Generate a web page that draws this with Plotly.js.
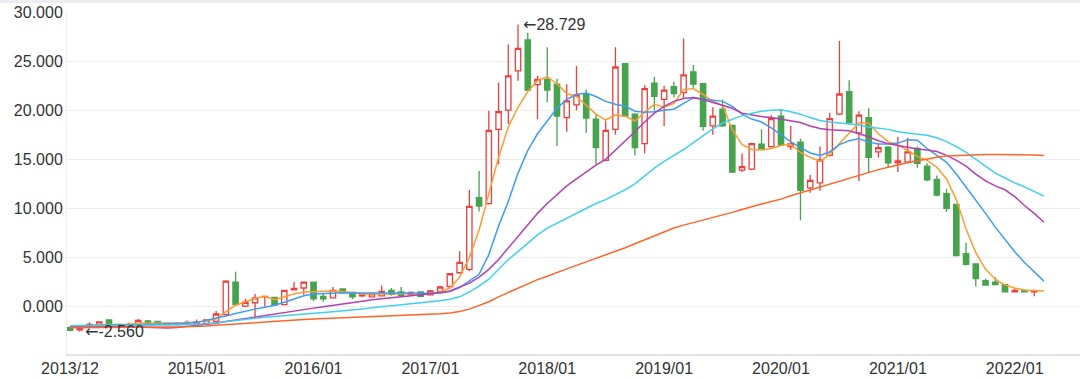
<!DOCTYPE html>
<html>
<head>
<meta charset="utf-8">
<script src="https://cdn.plot.ly/plotly-3.0.1.min.js"></script>
<style>
html,body{margin:0;padding:0;background:#fff;}
#wrap{position:relative;width:1080px;height:379px;}
#chart{width:1080px;height:379px;}
#topband{position:absolute;left:0;top:0;width:1080px;height:3px;background:#eceef1;}
</style>
</head>
<body>
<div id="wrap"><div id="chart"></div><div id="topband"></div></div>
<script>
const categories = [
'2013/12',
'2014/01','2014/02','2014/03','2014/04','2014/05','2014/06','2014/07','2014/08','2014/09','2014/10','2014/11','2014/12',
'2015/01','2015/02','2015/03','2015/04','2015/05','2015/06','2015/07','2015/08','2015/09','2015/10','2015/11','2015/12',
'2016/01','2016/02','2016/03','2016/04','2016/05','2016/06','2016/07','2016/08','2016/09','2016/10','2016/11','2016/12',
'2017/01','2017/02','2017/03','2017/04','2017/05','2017/06','2017/07','2017/08','2017/09','2017/10','2017/11','2017/12',
'2018/01','2018/02','2018/03','2018/04','2018/05','2018/06','2018/07','2018/08','2018/09','2018/10','2018/11','2018/12',
'2019/01','2019/02','2019/03','2019/04','2019/05','2019/06','2019/07','2019/08','2019/09','2019/10','2019/11','2019/12',
'2020/01','2020/02','2020/03','2020/04','2020/05','2020/06','2020/07','2020/08','2020/09','2020/10','2020/11','2020/12',
'2021/01','2021/02','2021/03','2021/04','2021/05','2021/06','2021/07','2021/08','2021/09','2021/10','2021/11','2021/12',
'2022/01','2022/02','2022/03','2022/04'
];

const openP = [
-2.1,-2.35,-2.0,-2.05,-1.35,-1.8,-1.95,-1.85,-1.45,-1.5,
-1.8,-1.75,-1.8,-1.75,-1.7,-1.5,-0.8,2.5,0.05,0.4,
1.0,0.95,0.2,1.7,1.9,2.5,1.05,0.9,1.8,1.45,
1.1,1.0,1.1,1.65,1.5,1.25,1.5,1.2,1.55,2.05,
3.45,3.8,11.1,10.5,18.05,20.0,24.0,27.15,22.6,23.15,
22.65,19.25,20.55,21.6,19.1,14.9,18.05,24.75,19.6,16.6,
22.75,21.1,22.4,21.8,23.9,22.7,18.4,20.1,18.45,13.9,
14.0,16.55,16.3,19.4,16.3,16.75,12.1,12.6,15.4,19.6,
21.9,17.7,19.25,15.75,16.25,14.65,14.75,16.1,14.3,12.95,
11.5,10.4,5.4,4.35,2.65,2.5,2.25,1.5,1.65,1.5,
null
];
const highP = [
-2.05,-2.1,-1.6,-1.5,-1.3,-1.75,-1.65,-1.25,-1.35,-1.45,
-1.65,-1.6,-1.4,-1.3,-1.3,-0.45,2.7,3.55,0.8,1.3,
1.1,1.0,1.7,2.5,2.55,2.55,1.3,2.0,1.85,1.5,
1.2,1.35,2.15,1.9,2.0,1.55,1.55,1.7,2.1,3.4,
5.65,11.9,13.8,19.95,22.8,26.7,28.729,27.9,23.5,26.4,
23.2,22.65,24.5,22.1,19.6,18.9,26.4,24.8,19.7,22.55,
23.4,22.5,22.9,27.3,24.6,22.75,20.3,21.1,18.5,15.6,
16.65,18.05,19.5,20.1,18.4,17.1,13.4,16.3,19.75,27.05,
23.05,19.9,20.2,16.7,16.35,17.3,17.2,16.3,14.6,13.35,
12.0,10.45,6.5,4.4,2.85,3.0,2.3,1.9,1.7,1.65,
null
];
const lowP = [
-2.45,-2.56,-2.05,-2.1,-2.0,-2.05,-2.0,-1.9,-1.8,-1.85,
-1.85,-1.8,-1.85,-1.8,-1.75,-1.55,-0.9,0.1,-0.05,-1.15,
0.05,0.1,0.15,1.65,1.2,0.55,0.5,0.85,1.35,0.75,
0.95,0.95,1.05,1.1,1.05,1.15,0.95,1.15,1.5,2.0,
3.4,3.6,9.7,10.4,14.5,18.6,23.0,21.95,19.1,20.8,
16.35,17.8,20.0,17.7,14.5,14.8,17.5,19.3,15.4,15.6,
20.0,18.4,21.3,21.2,22.2,17.9,17.5,18.3,13.6,13.7,
13.9,16.05,16.2,16.35,15.95,8.8,11.6,11.8,15.3,19.5,
18.6,12.8,13.65,15.15,14.15,13.7,14.6,14.15,12.8,11.25,
9.65,5.1,4.2,2.05,2.15,2.2,1.45,1.45,1.45,1.05,
null
];
const closeP = [
-2.4,-2.2,-1.8,-1.55,-1.95,-2.0,-1.8,-1.4,-1.75,-1.8,
-1.7,-1.7,-1.6,-1.55,-1.35,-0.75,2.6,0.2,0.45,0.9,
1.05,0.15,1.65,1.85,2.5,0.8,0.8,1.65,1.45,1.0,
1.2,1.3,1.55,1.25,1.15,1.45,1.05,1.6,2.0,3.35,
4.5,10.2,10.25,17.95,19.85,23.5,26.3,22.05,23.15,22.05,
19.4,20.95,21.55,19.2,16.2,17.95,24.4,19.4,16.2,22.2,
21.4,22.05,21.7,23.6,22.65,18.35,19.4,18.4,13.7,14.25,
16.6,16.1,19.15,16.45,16.6,11.85,12.85,14.95,19.15,21.65,
18.75,19.5,15.2,16.2,14.65,14.85,15.75,14.6,12.9,11.35,
10.0,5.2,4.3,2.85,2.2,2.25,1.5,1.65,1.5,1.6,
null
];

const ma5 = [
-2.1,-2.05,-1.95,-1.85,-1.85,-1.85,-1.8,-1.7,-1.7,-1.7,
-1.7,-1.68,-1.65,-1.6,-1.45,-1.25,-0.5,0.15,0.5,0.85,
1.05,0.7,1.0,1.3,1.5,1.55,1.6,1.6,1.55,1.4,
1.3,1.3,1.3,1.35,1.35,1.35,1.3,1.35,1.5,1.9,
3.0,5.0,7.8,11.5,15.2,18.3,20.3,21.9,23.0,23.4,
22.7,21.7,21.4,20.5,19.6,19.0,19.5,19.4,18.9,19.8,
20.6,20.3,20.7,22.1,22.2,21.6,20.9,20.5,18.0,16.5,
16.0,15.95,16.1,16.4,16.55,15.7,15.2,14.8,15.5,16.6,
17.6,18.7,18.7,17.6,16.8,16.5,15.9,15.3,14.9,14.2,
13.0,10.9,7.9,5.5,3.8,2.8,2.2,1.9,1.7,1.65,
1.6
];
const ma10 = [
-1.95,-1.95,-1.95,-1.92,-1.9,-1.88,-1.86,-1.84,-1.82,-1.8,
-1.78,-1.75,-1.7,-1.6,-1.4,-1.15,-0.95,-0.7,-0.45,-0.25,
-0.05,0.15,0.45,0.8,1.1,1.3,1.35,1.4,1.42,1.4,
1.38,1.37,1.37,1.38,1.4,1.38,1.37,1.37,1.4,1.55,
1.95,2.6,3.3,5.3,8.2,10.7,13.6,15.9,17.6,18.9,
20.2,21.1,21.6,21.75,21.4,20.9,20.6,20.4,19.9,19.8,
19.85,20.0,20.1,20.7,21.25,21.15,21.0,20.9,20.4,19.6,
19.1,18.8,18.2,17.5,16.8,16.2,15.65,15.4,15.75,16.5,
16.9,17.1,16.75,16.55,16.55,16.65,17.0,16.95,16.1,15.4,
14.7,13.5,12.2,10.8,9.5,8.1,6.85,5.6,4.5,3.5,
2.6
];
const ma20 = [
-2.0,-2.0,-2.0,-2.0,-2.0,-2.02,-2.05,-2.08,-2.12,-2.15,
-2.17,-2.12,-2.02,-1.92,-1.82,-1.7,-1.52,-1.36,-1.2,-1.05,
-0.9,-0.78,-0.62,-0.45,-0.3,-0.15,0.0,0.12,0.25,0.4,
0.55,0.7,0.82,0.92,1.02,1.12,1.22,1.32,1.42,1.6,
2.0,2.4,3.0,3.8,4.8,6.0,7.2,8.4,9.5,10.5,
11.4,12.3,13.0,13.7,14.4,15.0,15.9,16.8,17.8,18.8,
19.7,20.4,20.9,21.2,21.3,21.1,20.8,20.5,20.2,19.7,
19.5,19.35,19.25,19.1,18.95,18.75,18.4,18.15,18.0,17.95,
17.9,17.6,17.3,16.9,16.6,16.4,16.2,16.05,15.95,15.8,
15.4,14.9,14.3,13.5,12.8,12.3,11.9,11.2,10.3,9.5,
8.6
];
const ma30 = [
-1.94,-1.94,-1.94,-1.94,-1.94,-1.94,-1.94,-1.94,-1.92,-1.9,
-1.88,-1.86,-1.83,-1.8,-1.75,-1.65,-1.55,-1.42,-1.3,-1.18,
-1.07,-0.98,-0.9,-0.82,-0.75,-0.68,-0.6,-0.52,-0.44,-0.35,
-0.25,-0.12,0.0,0.1,0.2,0.3,0.4,0.48,0.6,0.75,
1.0,1.5,2.1,2.8,3.8,4.8,5.6,6.5,7.3,8.0,
8.5,9.0,9.5,10.0,10.5,10.9,11.4,11.9,12.5,13.3,
14.1,14.8,15.4,16.0,16.7,17.4,18.1,18.7,19.1,19.45,
19.7,19.9,20.0,20.05,19.85,19.6,19.25,18.95,18.8,18.7,
18.65,18.5,18.3,18.15,18.05,17.8,17.65,17.55,17.45,17.2,
16.8,16.3,15.7,15.0,14.3,13.6,13.1,12.6,12.2,11.7,
11.25
];
const ma60 = [
-2.15,-2.15,-2.15,-2.15,-2.14,-2.13,-2.12,-2.11,-2.1,-2.09,
-2.08,-2.06,-2.04,-2.01,-1.96,-1.9,-1.83,-1.75,-1.66,-1.58,
-1.52,-1.46,-1.4,-1.35,-1.3,-1.25,-1.21,-1.18,-1.15,-1.12,
-1.09,-1.06,-1.02,-0.98,-0.93,-0.88,-0.83,-0.78,-0.72,-0.64,
-0.5,-0.25,0.1,0.5,1.0,1.45,1.9,2.3,2.75,3.1,
3.5,3.85,4.2,4.55,4.9,5.3,5.65,6.0,6.4,6.8,
7.2,7.6,8.0,8.3,8.55,8.8,9.1,9.35,9.6,9.9,
10.2,10.45,10.7,10.95,11.3,11.6,11.85,12.15,12.45,12.75,
13.05,13.35,13.65,13.95,14.2,14.45,14.65,14.85,15.05,15.2,
15.35,15.4,15.45,15.5,15.5,15.5,15.5,15.5,15.5,15.45,
15.4
];

const xTickLabels = ['2013/12','2015/01','2016/01','2017/01','2018/01','2019/01','2020/01','2021/01','2022/01'];
const yTicks = [0,5,10,15,20,25,30];
const maxPoint = {x:'2017/10', y:28.729, label:'28.729'};
const minPoint = {x:'2014/01', y:-2.56, label:'-2.560'};
const ARROW = '<span style="font-family:\'DejaVu Sans\'">\u2190</span>';

const RED = '#ec3f3f';
const GREEN = '#47a34e';

const traces = [
  {
    type:'candlestick', x:categories, open:openP, high:highP, low:lowP, close:closeP,
    increasing:{line:{color:RED,width:1.3}, fillcolor:'#ffffff'},
    decreasing:{line:{color:GREEN,width:1.3}, fillcolor:GREEN},
    whiskerwidth:0, showlegend:false, hoverinfo:'skip'
  }
];
const lineDefs = [
  [ma5,'#ff9b30'],
  [ma10,'#3c9cf4'],
  [ma20,'#b53fb0'],
  [ma30,'#40d0ee'],
  [ma60,'#ff6526']
];
lineDefs.forEach(function(d){
  traces.push({type:'scatter', mode:'lines', x:categories, y:d[0],
    line:{color:d[1], width:1.5}, showlegend:false, hoverinfo:'skip'});
});

const font = {family:'"Liberation Sans", Arial, Helvetica, sans-serif', size:16, color:'#333333'};

const layout = {
  width:1080, height:379,
  margin:{l:67, r:0, t:12, b:25, pad:0},
  paper_bgcolor:'#ffffff', plot_bgcolor:'#ffffff',
  font:font,
  showlegend:false,
  boxgap:0.22,
  xaxis:{
    type:'category', range:[-0.31, 103.7],
    tickmode:'array', tickvals:xTickLabels, ticktext:xTickLabels,
    tickfont:font, showgrid:false, zeroline:false,
    showline:true, linecolor:'#e2e2e2', linewidth:2,
    ticks:'', ticklabelstandoff:-1,
    rangeslider:{visible:false}, fixedrange:true
  },
  yaxis:{
    range:[-4.82, 30],
    tickmode:'array', tickvals:yTicks, tickformat:'.3f',
    tickfont:font, showgrid:true, gridcolor:'#eeeeee', gridwidth:1,
    zeroline:false, showline:true, linecolor:'#eeeeee', linewidth:1,
    ticks:'', fixedrange:true
  },
  annotations:[
    {x:maxPoint.x, y:maxPoint.y, xref:'x', yref:'y', text:ARROW+maxPoint.label, showarrow:false,
     xanchor:'left', yanchor:'middle', xshift:3, font:font},
    {x:minPoint.x, y:minPoint.y, xref:'x', yref:'y', text:ARROW+minPoint.label, showarrow:false,
     xanchor:'left', yanchor:'middle', xshift:3, font:font}
  ]
};

Plotly.newPlot('chart', traces, layout, {displayModeBar:false, staticPlot:true});
</script>
</body>
</html>
